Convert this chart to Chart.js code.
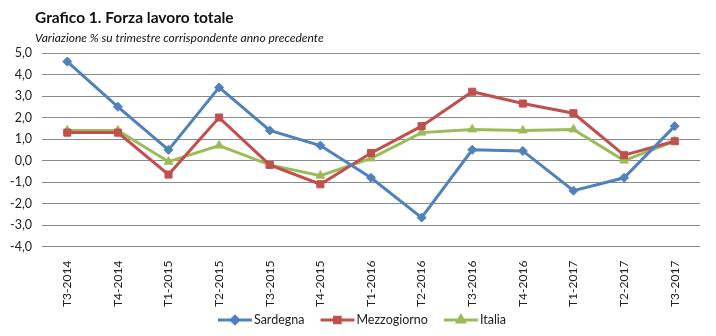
<!DOCTYPE html>
<html>
<head>
<meta charset="utf-8">
<script src="https://cdn.jsdelivr.net/npm/chart.js@4/dist/chart.umd.min.js"></script>
<style>
  html, body { margin: 0; padding: 0; background: #fff; }
  #wrap { position: relative; width: 716px; height: 336px; }
  #c { position: absolute; left: 0; top: 0; }
  #title { position: absolute; left: 35px; top: 8px; font: bold 15.5px Lato, "Open Sans", sans-serif; color: #111; }
  #sub { position: absolute; left: 35px; top: 30px; font: italic 12px Lato, "Open Sans", sans-serif; color: #111; }
</style>
</head>
<body>
<div id="wrap">
  <canvas id="c" width="716" height="336"></canvas>
  <div id="title">Grafico 1. Forza lavoro totale</div>
  <div id="sub">Variazione % su trimestre corrispondente anno precedente</div>
</div>
<script>
const categories = ["T3-2014","T4-2014","T1-2015","T2-2015","T3-2015","T4-2015","T1-2016","T2-2016","T3-2016","T4-2016","T1-2017","T2-2017","T3-2017"];
const sardegna    = [4.6, 2.5, 0.5, 3.4, 1.4, 0.7, -0.8, -2.65, 0.5, 0.45, -1.4, -0.8, 1.6];
const mezzogiorno = [1.3, 1.3, -0.65, 2.0, -0.2, -1.1, 0.35, 1.6, 3.2, 2.65, 2.2, 0.25, 0.9];
const italia      = [1.4, 1.4, -0.05, 0.7, -0.2, -0.7, 0.1, 1.3, 1.45, 1.4, 1.45, 0.0, 0.9];
const seriesNames = ["Sardegna", "Mezzogiorno", "Italia"];
const yTicks = [-4, -3, -2, -1, 0, 1, 2, 3, 4, 5];

const FONT = 'Lato, "Open Sans", sans-serif';
const colors = ["#4F81BD", "#C0504D", "#9BBB59"];
const pstyles = ["rectRot", "rect", "triangle"];
const radii = [4.5, 5, 5];

const legendPlugin = {
  id: 'customLegend',
  afterDraw(chart) {
    const ctx = chart.ctx;
    ctx.save();
    ctx.font = '12.5px ' + FONT;
    const lineLen = 34, gapAfterLine = 2, gapBetween = 16;
    const items = chart.data.datasets.map(ds => ({ ds, w: lineLen + gapAfterLine + ctx.measureText(ds.label).width }));
    const total = items.reduce((a, b) => a + b.w, 0) + gapBetween * (items.length - 1);
    let x = 362 - total / 2;
    const y = 320;
    items.forEach((it, i) => {
      ctx.strokeStyle = it.ds.borderColor;
      ctx.lineWidth = 3;
      ctx.beginPath(); ctx.moveTo(x, y); ctx.lineTo(x + lineLen, y); ctx.stroke();
      ctx.fillStyle = it.ds.borderColor;
      ctx.strokeStyle = it.ds.borderColor;
      ctx.beginPath();
      Chart.helpers.drawPoint(ctx, { pointStyle: it.ds.pointStyle, radius: it.ds.pointRadius * 0.8, rotation: 0, borderWidth: 1 }, x + lineLen / 2, y);
      ctx.fillStyle = '#222';
      ctx.textBaseline = 'middle';
      ctx.textAlign = 'left';
      ctx.fillText(it.ds.label, x + lineLen + gapAfterLine, y);
      x += it.w + gapBetween;
    });
    ctx.restore();
  }
};

const dataSets = [sardegna, mezzogiorno, italia].map((vals, i) => ({
  label: seriesNames[i],
  data: vals,
  borderColor: colors[i],
  backgroundColor: colors[i],
  borderWidth: 3,
  pointStyle: pstyles[i],
  pointRadius: radii[i],
  pointHoverRadius: radii[i],
  pointBorderWidth: 1,
  tension: 0
}));

new Chart(document.getElementById('c'), {
  type: 'line',
  data: { labels: categories, datasets: dataSets },
  options: {
    responsive: false,
    animation: false,
    layout: { padding: { top: 53, right: 16, bottom: 23, left: 0 } },
    plugins: {
      legend: { display: false },
      tooltip: { enabled: false }
    },
    scales: {
      x: {
        offset: true,
        grid: { display: false },
        border: { display: false },
        ticks: {
          minRotation: 90, maxRotation: 90,
          font: { family: FONT, size: 12 }, color: '#222', padding: 6
        }
      },
      y: {
        min: -4, max: 5,
        afterBuildTicks(axis) { axis.ticks = yTicks.map(v => ({ value: v })); },
        grid: { color: '#8a8a8a', lineWidth: 1, drawTicks: false },
        border: { display: false },
        ticks: {
          font: { family: FONT, size: 12.5 }, color: '#222', padding: 10,
          callback: v => v.toFixed(1).replace('.', ',')
        }
      }
    }
  },
  plugins: [legendPlugin]
});
</script>
</body>
</html>
